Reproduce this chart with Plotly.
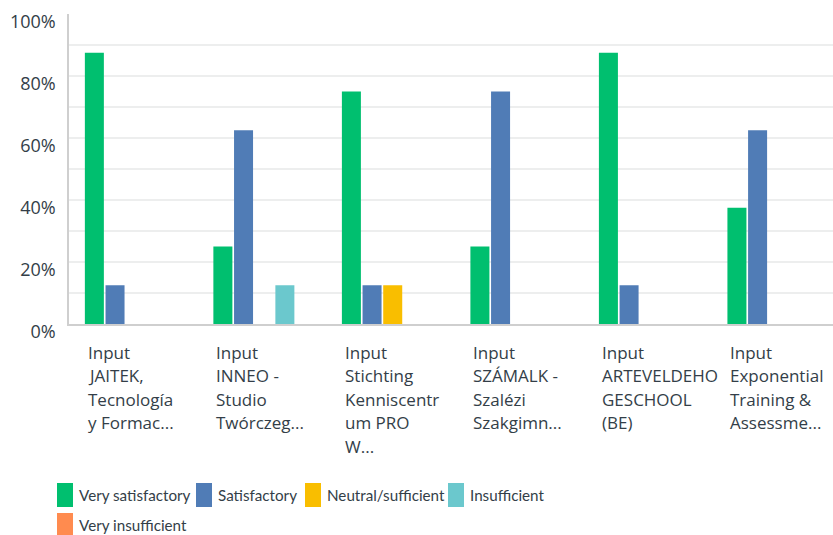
import plotly.graph_objects as go

# ---- data ----
category_lines = [
    ["Input", "JAITEK,", "Tecnología", "y Formac..."],
    ["Input", "INNEO -", "Studio", "Twórczeg..."],
    ["Input", "Stichting", "Kenniscentr", "um PRO", "W..."],
    ["Input", "SZÁMALK -", "Szalézi", "Szakgimn..."],
    ["Input", "ARTEVELDEHO", "GESCHOOL", "(BE)"],
    ["Input", "Exponential", "Training &", "Assessme..."],
]
categories = [" ".join(l) for l in category_lines]

series_names = ["Very satisfactory", "Satisfactory", "Neutral/sufficient",
                "Insufficient", "Very insufficient"]
very_satisfactory = [87.5, 25, 75, 25, 87.5, 37.5]
satisfactory = [12.5, 62.5, 12.5, 75, 12.5, 62.5]
neutral_sufficient = [0, 0, 12.5, 0, 0, 0]
insufficient = [0, 12.5, 0, 0, 0, 0]
very_insufficient = [0, 0, 0, 0, 0, 0]
series_values = [very_satisfactory, satisfactory, neutral_sufficient,
                 insufficient, very_insufficient]
series_colors = ["#00BF6F", "#507CB6", "#F9BE00", "#6BC8CD", "#FF8B4F"]

y_tick_vals = [0, 10, 20, 30, 40, 50, 60, 70, 80, 90, 100]
y_tick_text = ["0%", "", "20%", "", "40%", "", "60%", "", "80%", "", "100%"]

# ---- layout constants (pixels) ----
W, H = 833, 535
ML, MR, MT, MB = 69, 0, 14, 211
PW, PH = W - ML - MR, H - MT - MB
TEXT = "#333E48"
FONT = "Open Sans, Liberation Sans, sans-serif"
LEGEND_FONT = "Lato, Open Sans, sans-serif"


def px_x(p):
    return (p - ML) / PW


def px_y(p):
    return (H - MB - p) / PH


fig = go.Figure()
for name, vals, col in zip(series_names, series_values, series_colors):
    fig.add_trace(go.Bar(x=categories, y=vals, name=name,
                         marker=dict(color=col, line=dict(width=0)),
                         showlegend=False))

# category labels (left aligned, multi-line)
annotations = []
for cat, lines in zip(categories, category_lines):
    for i, line in enumerate(lines):
        annotations.append(dict(
            x=cat, xref="x", y=0, yref="paper", text=line, showarrow=False,
            xanchor="left", yanchor="middle", xshift=-50,
            yshift=-(28 + i * 23.5),
            font=dict(family=FONT, size=17, color=TEXT)))

# manual legend
legend_pos = [(57, 495), (196, 495), (305, 495), (448, 495), (57, 525)]
shapes = []
for (lx, ly), name, col in zip(legend_pos, series_names, series_colors):
    shapes.append(dict(type="rect", xref="paper", yref="paper",
                       x0=px_x(lx), x1=px_x(lx + 16),
                       y0=px_y(ly + 12), y1=px_y(ly - 12),
                       fillcolor=col, line=dict(width=0), layer="above"))
    annotations.append(dict(
        x=px_x(lx + 20), y=px_y(ly), xref="paper", yref="paper", text=name,
        showarrow=False, xanchor="left", yanchor="middle",
        font=dict(family=LEGEND_FONT, size=15.2, color=TEXT)))

fig.update_layout(
    width=W, height=H,
    margin=dict(l=ML, r=MR, t=MT, b=MB, pad=0, autoexpand=False),
    paper_bgcolor="white", plot_bgcolor="white",
    barmode="group", bargap=0.196, bargroupgap=0.08,
    showlegend=False,
    font=dict(family=FONT, color=TEXT),
    annotations=annotations, shapes=shapes,
    xaxis=dict(range=[-0.519, 5.426], showticklabels=False, ticks="",
               showgrid=False, zeroline=False, showline=True,
               linecolor="#CFCFCF", linewidth=2, fixedrange=True),
    yaxis=dict(range=[0, 100], tickvals=y_tick_vals, ticktext=y_tick_text,
               showgrid=True, gridcolor="#EDEEEE", gridwidth=1.5,
               zeroline=False, showline=True, linecolor="#CFCFCF",
               linewidth=1.5, ticks="", ticklabelstandoff=8,
               ticklabelshift=8,
               tickfont=dict(family=FONT, size=18, color=TEXT)),
)

fig.write_html("out.html",
               config={"displayModeBar": False},
               post_script="document.body.style.margin='0';"
                           "document.body.style.overflow='hidden';")
